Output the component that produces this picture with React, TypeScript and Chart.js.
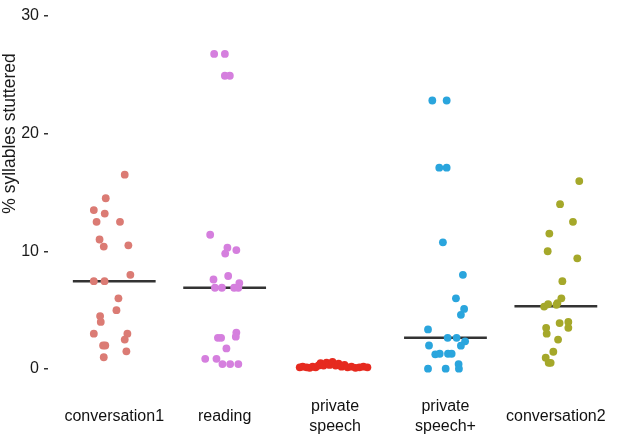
import React, { useEffect, useRef } from "react";
import { Chart, registerables } from "chart.js";

Chart.register(...registerables);

// ---- data ----
const categories: (string | string[])[] = [
  "conversation1",
  "reading",
  ["private", "speech"],
  ["private", "speech+"],
  "conversation2",
];

const colors = ["#DB7B74", "#D57FDE", "#E62A1F", "#2AA5DD", "#A5A82A"];

// % syllables stuttered per participant, with horizontal jitter (category units)
const conversation1Values = [16.5, 14.5, 13.5, 13.2, 12.5, 12.5, 11.0, 10.4, 10.5, 8.0, 7.46, 7.46, 6.0, 5.0, 4.5, 4.0, 3.0, 3.0, 2.5, 2.0, 2.0, 1.5, 1.0];
const conversation1Jitter = [0.095, -0.077, -0.185, -0.086, -0.16, 0.052, -0.133, -0.095, 0.128, 0.146, -0.185, -0.088, 0.038, 0.02, -0.128, -0.122, -0.185, 0.119, 0.095, -0.101, -0.081, 0.11, -0.095];

const readingValues = [26.75, 26.75, 24.9, 24.9, 11.4, 10.3, 9.8, 10.1, 7.9, 7.6, 7.3, 6.9, 6.9, 6.9, 6.9, 3.1, 2.75, 2.65, 2.65, 1.75, 0.87, 0.87, 0.42, 0.42, 0.42];
const readingJitter = [-0.095, 0.002, 0.002, 0.047, -0.131, 0.025, 0.005, 0.106, 0.032, -0.101, 0.133, -0.088, -0.025, 0.086, 0.124, 0.106, 0.101, -0.061, -0.032, 0.016, -0.176, -0.074, -0.02, 0.05, 0.124];

const privateSpeechValues = [0.15, 0.2, 0.15, 0.1, 0.2, 0.15, 0.3, 0.5, 0.3, 0.55, 0.35, 0.6, 0.3, 0.45, 0.2, 0.35, 0.15, 0.2, 0.1, 0.15, 0.2, 0.15];
const privateSpeechJitter = [-0.32, -0.293, -0.257, -0.23, -0.203, -0.176, -0.149, -0.131, -0.104, -0.077, -0.05, -0.023, 0.005, 0.032, 0.059, 0.086, 0.113, 0.149, 0.185, 0.221, 0.257, 0.293];

const privateSpeechPlusValues = [22.8, 22.8, 17.1, 17.1, 10.76, 8.0, 6.0, 5.1, 4.6, 3.36, 2.65, 2.65, 2.35, 2.0, 1.98, 1.25, 1.3, 1.3, 1.3, 0.42, 0.03, 0.03, 0.03];
const privateSpeechPlusJitter = [-0.119, 0.011, -0.056, 0.011, -0.023, 0.158, 0.095, 0.169, 0.14, -0.158, 0.02, 0.101, 0.178, -0.149, 0.14, -0.092, -0.052, 0.023, 0.056, 0.119, -0.158, 0.002, 0.122];

const conversation2Values = [15.96, 14.0, 12.5, 11.5, 10.0, 9.4, 7.46, 6.0, 5.6, 5.3, 5.5, 5.45, 3.9, 4.0, 3.5, 3.5, 3.0, 2.5, 1.47, 0.96, 0.53, 0.53];
const conversation2Jitter = [0.212, 0.038, 0.155, -0.059, -0.074, 0.194, 0.059, 0.05, 0.014, -0.106, -0.07, 0.005, 0.034, 0.113, -0.088, 0.113, -0.083, 0.02, -0.023, -0.092, -0.065, -0.047];

const seriesValues = [conversation1Values, readingValues, privateSpeechValues, privateSpeechPlusValues, conversation2Values];
const seriesJitter = [conversation1Jitter, readingJitter, privateSpeechJitter, privateSpeechPlusJitter, conversation2Jitter];

// median bars (none visible for private speech)
const medians: (number | null)[] = [7.46, 6.9, null, 2.65, 5.34];

const yTicks = [0, 10, 20, 30];
const yTitle = "% syllables stuttered";

const FONT = "'Liberation Sans', Arial, Helvetica, sans-serif";

const yTitlePlugin = {
  id: "yTitlePlugin",
  afterDraw(chart: any) {
    const ctx = chart.ctx;
    ctx.save();
    ctx.translate(10, 133.5);
    ctx.rotate(-Math.PI / 2);
    ctx.font = `17.5px ${FONT}`;
    ctx.fillStyle = "#1a1a1a";
    ctx.textAlign = "center";
    ctx.textBaseline = "middle";
    ctx.fillText(yTitle, 0, 0);
    ctx.restore();
  },
};

export default function App() {
  const ref = useRef<HTMLCanvasElement | null>(null);

  useEffect(() => {
    if (!ref.current) return;
    const pointSets: any[] = seriesValues.map((vals, i) => ({
      type: "scatter",
      label: Array.isArray(categories[i]) ? (categories[i] as string[]).join(" ") : (categories[i] as string),
      data: vals.map((v, k) => ({ x: i + seriesJitter[i][k], y: v })),
      backgroundColor: colors[i],
      borderWidth: 0,
      pointRadius: 3.9,
      pointHoverRadius: 3.9,
      order: 0,
    }));
    const medianSets: any[] = medians
      .map((m, i) =>
        m === null
          ? null
          : {
              type: "line",
              label: "median",
              data: [
                { x: i - 0.375, y: m },
                { x: i + 0.375, y: m },
              ],
              borderColor: "#333333",
              borderWidth: 2.5,
              pointRadius: 0,
              fill: false,
              order: 1,
            }
      )
      .filter(Boolean);

    const chart = new Chart(ref.current, {
      type: "scatter",
      data: { datasets: [...medianSets, ...pointSets] },
      options: {
        animation: false,
        responsive: false,
        devicePixelRatio: 1,
        layout: { padding: { top: 3, right: 1, left: 0, bottom: 0 } },
        plugins: {
          legend: { display: false },
          tooltip: { enabled: false },
        },
        scales: {
          x: {
            type: "linear",
            min: -0.6,
            max: 4.6,
            border: { display: false },
            grid: { display: false, drawTicks: false },
            afterBuildTicks: (scale: any) => {
              scale.ticks = categories.map((_, i) => ({ value: i }));
            },
            afterFit: (scale: any) => {
              scale.height = 47.4;
              scale.paddingLeft = 0;
              scale.paddingRight = 0;
            },
            ticks: {
              autoSkip: false,
              maxRotation: 0,
              minRotation: 0,
              padding: 13.5,
              crossAlign: "center",
              color: "#111111",
              font: { family: FONT, size: 16, lineHeight: 1.3 },
              callback: (v: any) => categories[Math.round(Number(v))] as any,
            },
          },
          y: {
            type: "linear",
            min: -2,
            max: 31,
            border: { display: false },
            grid: {
              drawOnChartArea: false,
              drawTicks: true,
              tickLength: 4,
              color: "#333333",
              lineWidth: 1.5,
            },
            afterBuildTicks: (scale: any) => {
              scale.ticks = yTicks.map((v) => ({ value: v }));
            },
            afterFit: (scale: any) => {
              scale.width = 48;
              scale.paddingTop = 0;
              scale.paddingBottom = 0;
            },
            ticks: {
              padding: 5,
              color: "#1a1a1a",
              font: { family: FONT, size: 16 },
            },
          },
        },
      },
      plugins: [yTitlePlugin],
    } as any);
    return () => chart.destroy();
  }, []);

  return (
    <div style={{ position: "fixed", left: 0, top: 0, width: 626, height: 440, background: "#fff" }}>
      <canvas ref={ref} width={626} height={440} />
    </div>
  );
}
